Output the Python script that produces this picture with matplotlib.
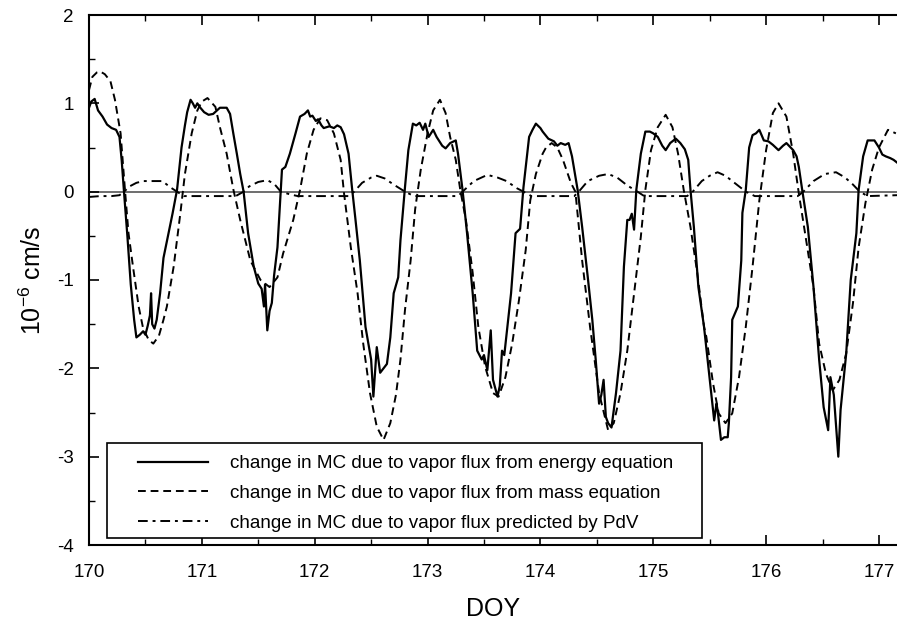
import matplotlib
matplotlib.use("Agg")
import matplotlib.pyplot as plt
from matplotlib.ticker import MultipleLocator
from matplotlib.patches import Rectangle

plt.rcParams['font.family'] = ['Liberation Sans', 'DejaVu Sans']
plt.rcParams['axes.unicode_minus'] = False
plt.rcParams['mathtext.default'] = 'regular'

energy_doy = [170.00, 170.02, 170.05, 170.08, 170.12, 170.16, 170.20, 170.24, 170.27, 170.29, 170.31, 170.34, 170.37, 170.40, 170.42, 170.45, 170.48, 170.50, 170.52, 170.54, 170.55, 170.56, 170.58, 170.60, 170.63, 170.66, 170.70, 170.74, 170.78, 170.82, 170.85, 170.87, 170.90, 170.92, 170.94, 170.96, 170.98, 171.02, 171.06, 171.10, 171.16, 171.22, 171.25, 171.28, 171.31, 171.34, 171.37, 171.41, 171.46, 171.50, 171.53, 171.55, 171.56, 171.58, 171.60, 171.62, 171.64, 171.67, 171.70, 171.71, 171.74, 171.78, 171.83, 171.87, 171.91, 171.94, 171.96, 171.98, 172.01, 172.03, 172.06, 172.08, 172.13, 172.17, 172.20, 172.23, 172.26, 172.30, 172.33, 172.36, 172.40, 172.45, 172.48, 172.50, 172.52, 172.55, 172.58, 172.61, 172.64, 172.67, 172.70, 172.74, 172.76, 172.80, 172.83, 172.87, 172.90, 172.93, 172.96, 172.98, 173.01, 173.05, 173.08, 173.10, 173.13, 173.16, 173.20, 173.25, 173.27, 173.31, 173.35, 173.40, 173.44, 173.48, 173.50, 173.53, 173.56, 173.58, 173.62, 173.64, 173.66, 173.68, 173.74, 173.78, 173.82, 173.85, 173.90, 173.93, 173.96, 174.00, 174.02, 174.07, 174.12, 174.15, 174.18, 174.22, 174.25, 174.28, 174.33, 174.37, 174.42, 174.46, 174.49, 174.52, 174.54, 174.56, 174.58, 174.60, 174.63, 174.67, 174.71, 174.74, 174.77, 174.79, 174.81, 174.83, 174.85, 174.89, 174.93, 174.97, 175.00, 175.04, 175.08, 175.11, 175.15, 175.20, 175.24, 175.28, 175.31, 175.33, 175.36, 175.40, 175.45, 175.49, 175.52, 175.54, 175.56, 175.57, 175.60, 175.63, 175.66, 175.67, 175.69, 175.70, 175.75, 175.78, 175.79, 175.82, 175.85, 175.88, 175.91, 175.94, 175.98, 176.02, 176.06, 176.11, 176.15, 176.18, 176.24, 176.27, 176.29, 176.32, 176.37, 176.42, 176.47, 176.51, 176.55, 176.57, 176.60, 176.64, 176.66, 176.71, 176.75, 176.80, 176.82, 176.86, 176.90, 176.96, 177.00, 177.03, 177.06, 177.10, 177.13, 177.16]
energy_val = [0.95, 1.02, 1.05, 0.92, 0.85, 0.76, 0.72, 0.70, 0.62, 0.35, 0.00, -0.50, -1.05, -1.45, -1.65, -1.62, -1.58, -1.62, -1.52, -1.40, -1.15, -1.50, -1.55, -1.45, -1.15, -0.75, -0.50, -0.25, 0.02, 0.50, 0.75, 0.90, 1.04, 1.00, 0.95, 1.00, 0.96, 0.90, 0.87, 0.88, 0.95, 0.95, 0.88, 0.65, 0.43, 0.20, 0.00, -0.47, -0.85, -1.04, -1.10, -1.30, -1.05, -1.57, -1.35, -1.26, -0.95, -0.63, 0.02, 0.25, 0.28, 0.43, 0.66, 0.85, 0.88, 0.92, 0.85, 0.86, 0.80, 0.82, 0.75, 0.72, 0.74, 0.72, 0.75, 0.73, 0.65, 0.43, 0.05, -0.30, -0.78, -1.53, -1.75, -1.90, -2.32, -1.76, -2.05, -2.00, -1.95, -1.65, -1.15, -0.97, -0.55, 0.05, 0.47, 0.77, 0.75, 0.78, 0.70, 0.77, 0.62, 0.70, 0.62, 0.58, 0.52, 0.49, 0.55, 0.58, 0.43, 0.02, -0.47, -1.15, -1.80, -1.90, -1.85, -2.02, -1.57, -2.13, -2.32, -2.20, -1.80, -1.85, -1.15, -0.47, -0.42, 0.05, 0.62, 0.70, 0.77, 0.72, 0.68, 0.60, 0.57, 0.52, 0.55, 0.53, 0.55, 0.40, 0.02, -0.40, -0.97, -1.45, -1.90, -2.40, -2.30, -2.13, -2.55, -2.62, -2.67, -2.28, -1.80, -0.85, -0.32, -0.32, -0.25, -0.43, 0.02, 0.43, 0.68, 0.68, 0.66, 0.62, 0.52, 0.47, 0.55, 0.60, 0.55, 0.48, 0.36, 0.02, -0.40, -1.08, -1.53, -2.00, -2.35, -2.59, -2.40, -2.47, -2.81, -2.78, -2.78, -2.62, -2.10, -1.45, -1.30, -0.78, -0.24, 0.02, 0.50, 0.64, 0.66, 0.70, 0.58, 0.57, 0.53, 0.47, 0.52, 0.55, 0.47, 0.40, 0.28, 0.02, -0.40, -1.08, -1.90, -2.44, -2.70, -2.10, -2.30, -3.00, -2.47, -1.83, -1.00, -0.47, 0.02, 0.40, 0.58, 0.58, 0.50, 0.42, 0.40, 0.38, 0.36, 0.33]

mass_doy = [170.00, 170.03, 170.07, 170.10, 170.14, 170.19, 170.23, 170.28, 170.32, 170.35, 170.39, 170.44, 170.48, 170.53, 170.57, 170.62, 170.66, 170.69, 170.75, 170.81, 170.85, 170.91, 170.96, 171.00, 171.05, 171.12, 171.16, 171.22, 171.28, 171.34, 171.43, 171.52, 171.60, 171.67, 171.72, 171.81, 171.87, 171.93, 171.99, 172.05, 172.11, 172.17, 172.23, 172.26, 172.32, 172.38, 172.43, 172.49, 172.55, 172.61, 172.67, 172.72, 172.76, 172.80, 172.85, 172.89, 172.94, 173.00, 173.05, 173.11, 173.16, 173.20, 173.25, 173.29, 173.34, 173.40, 173.45, 173.51, 173.58, 173.63, 173.69, 173.75, 173.81, 173.87, 173.91, 173.96, 174.02, 174.05, 174.10, 174.15, 174.20, 174.27, 174.31, 174.37, 174.44, 174.52, 174.60, 174.65, 174.71, 174.77, 174.83, 174.89, 174.93, 174.98, 175.04, 175.11, 175.17, 175.22, 175.27, 175.33, 175.39, 175.45, 175.47, 175.53, 175.58, 175.64, 175.70, 175.76, 175.82, 175.88, 175.94, 176.00, 176.06, 176.11, 176.18, 176.24, 176.29, 176.35, 176.42, 176.47, 176.53, 176.59, 176.65, 176.71, 176.77, 176.82, 176.88, 176.94, 177.00, 177.08, 177.15]
mass_val = [1.15, 1.30, 1.35, 1.36, 1.33, 1.25, 1.04, 0.66, 0.00, -0.47, -0.85, -1.30, -1.55, -1.68, -1.72, -1.63, -1.45, -1.30, -0.85, -0.24, 0.20, 0.66, 0.92, 1.02, 1.06, 0.96, 0.73, 0.43, 0.02, -0.32, -0.78, -1.00, -1.08, -0.97, -0.70, -0.32, 0.02, 0.43, 0.70, 0.83, 0.81, 0.66, 0.36, -0.02, -0.63, -1.15, -1.72, -2.28, -2.66, -2.81, -2.62, -2.30, -1.90, -1.34, -0.78, -0.20, 0.25, 0.66, 0.92, 1.04, 0.89, 0.62, 0.36, 0.02, -0.32, -0.92, -1.53, -1.98, -2.28, -2.32, -2.10, -1.72, -1.23, -0.66, -0.10, 0.20, 0.43, 0.50, 0.55, 0.50, 0.36, 0.10, 0.00, -0.78, -1.53, -2.28, -2.70, -2.62, -2.28, -1.80, -1.15, -0.51, 0.02, 0.47, 0.73, 0.87, 0.73, 0.43, 0.02, -0.40, -0.92, -1.53, -1.64, -2.17, -2.51, -2.62, -2.51, -2.10, -1.53, -0.85, -0.10, 0.47, 0.89, 1.00, 0.85, 0.43, -0.02, -0.51, -1.08, -1.72, -2.06, -2.25, -2.13, -1.83, -1.26, -0.63, -0.13, 0.25, 0.50, 0.70, 0.66]

pdv_doy = [170.00, 170.10, 170.20, 170.27, 170.31, 170.36, 170.42, 170.48, 170.58, 170.65, 170.72, 170.78, 170.84, 171.30, 171.37, 171.42, 171.50, 171.58, 171.64, 171.70, 171.78, 171.85, 172.30, 172.35, 172.42, 172.50, 172.55, 172.62, 172.70, 172.80, 172.88, 173.27, 173.31, 173.41, 173.53, 173.62, 173.70, 173.79, 173.85, 173.92, 174.30, 174.34, 174.42, 174.52, 174.60, 174.68, 174.77, 174.86, 174.92, 175.30, 175.35, 175.43, 175.50, 175.57, 175.64, 175.74, 175.82, 175.90, 176.28, 176.33, 176.42, 176.52, 176.62, 176.70, 176.77, 176.83, 176.90, 177.16]
pdv_val = [-0.06, -0.05, -0.05, -0.04, 0.00, 0.06, 0.10, 0.12, 0.12, 0.12, 0.05, 0.00, -0.05, -0.05, 0.00, 0.06, 0.11, 0.13, 0.09, 0.00, -0.03, -0.05, -0.05, 0.00, 0.10, 0.16, 0.18, 0.15, 0.08, 0.00, -0.05, -0.05, 0.00, 0.12, 0.19, 0.16, 0.12, 0.04, 0.00, -0.05, -0.05, 0.00, 0.12, 0.18, 0.20, 0.16, 0.07, 0.00, -0.05, -0.05, 0.00, 0.12, 0.18, 0.22, 0.18, 0.08, 0.00, -0.05, -0.05, 0.00, 0.12, 0.20, 0.22, 0.16, 0.08, 0.00, -0.05, -0.04]

labels = ["change in MC due to vapor flux from energy equation",
          "change in MC due to vapor flux from mass equation",
          "change in MC due to vapor flux predicted by PdV"]

W, H = 897, 625
AX_L, AX_R, AX_T, AX_B = 89, 897, 15, 545

fig = plt.figure(figsize=(W / 100, H / 100), dpi=100)
ax = fig.add_axes([AX_L / W, 1 - AX_B / H, (AX_R - AX_L) / W, (AX_B - AX_T) / H])

def ax_frac(px, py):
    return (px - AX_L) / (AX_R - AX_L), (AX_B - py) / (AX_B - AX_T)

ax.axhline(0, color='#555555', lw=1.2, zorder=1)
ax.plot(energy_doy, energy_val, color='black', lw=1.6, label=labels[0], zorder=3)
ax.plot(mass_doy, mass_val, color='black', lw=1.4, dashes=(4, 2.5), label=labels[1], zorder=2)
ax.plot(pdv_doy, pdv_val, color='black', lw=1.4, dashes=(5, 2.5, 1.5, 2.5), label=labels[2], zorder=2)

ax.set_xlim(170, 177.16)
ax.set_ylim(-4, 2)
ax.xaxis.set_major_locator(MultipleLocator(1))
ax.xaxis.set_minor_locator(MultipleLocator(0.5))
ax.yaxis.set_major_locator(MultipleLocator(1))
ax.yaxis.set_minor_locator(MultipleLocator(0.5))
ax.tick_params(axis='both', which='both', direction='in', top=True, right=False, labelsize=13.5)
ax.tick_params(axis='x', which='major', pad=14)
ax.tick_params(axis='y', which='major', pad=11)
ax.tick_params(which='major', length=7, width=1.2)
ax.tick_params(which='minor', length=4, width=1.0)
ax.spines['right'].set_visible(False)
for s in ['left', 'top', 'bottom']:
    ax.spines[s].set_linewidth(1.5)

ax.set_xlabel('DOY', fontsize=18, labelpad=11)
ax.set_ylabel('10$^{-6}$ cm/s', fontsize=18, labelpad=8)

# legend: frame drawn as a rectangle, entries placed inside
fx0, fy0 = ax_frac(107, 538)
fx1, fy1 = ax_frac(702, 443)
ax.add_patch(Rectangle((fx0, fy0), fx1 - fx0, fy1 - fy0, transform=ax.transAxes,
                       facecolor='white', edgecolor='black', lw=1.2, zorder=5))
lx, ly = ax_frac(138, 455)
leg = ax.legend(loc='upper left', bbox_to_anchor=(lx, ly), fontsize=13.6,
                frameon=False, handlelength=3.7, handletextpad=1.15, borderpad=0,
                labelspacing=0.66, borderaxespad=0)
leg.set_zorder(6)

fig.savefig('out.png', dpi=100)
